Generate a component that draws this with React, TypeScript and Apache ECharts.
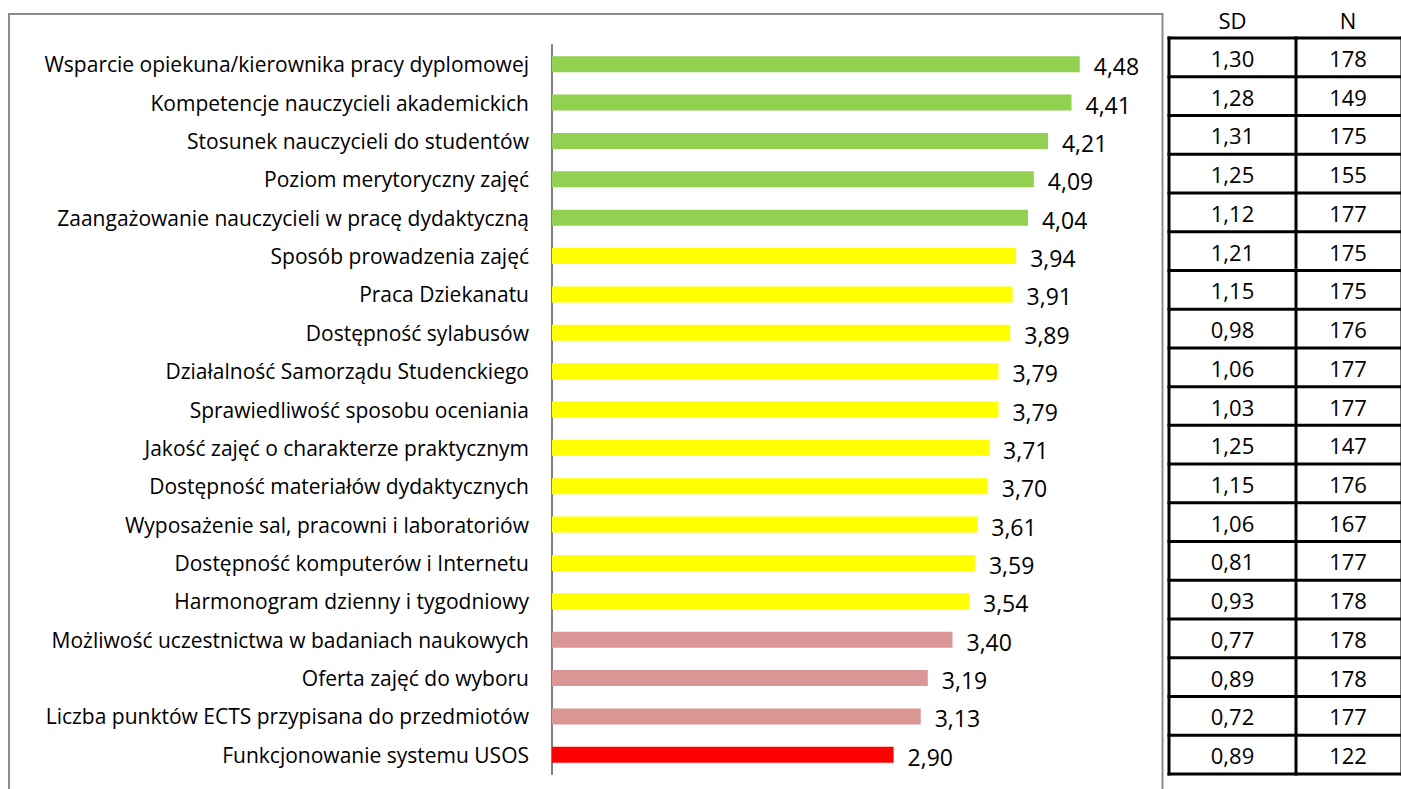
import React, { useEffect, useRef } from "react";
import * as echarts from "echarts";

const categories = [
  "Wsparcie opiekuna/kierownika pracy dyplomowej",
  "Kompetencje nauczycieli akademickich",
  "Stosunek nauczycieli do studentów",
  "Poziom merytoryczny zajęć",
  "Zaangażowanie nauczycieli w pracę dydaktyczną",
  "Sposób prowadzenia zajęć",
  "Praca Dziekanatu",
  "Dostępność sylabusów",
  "Działalność Samorządu Studenckiego",
  "Sprawiedliwość sposobu oceniania",
  "Jakość zajęć o charakterze praktycznym",
  "Dostępność materiałów dydaktycznych",
  "Wyposażenie sal, pracowni i laboratoriów",
  "Dostępność komputerów i Internetu",
  "Harmonogram dzienny i tygodniowy",
  "Możliwość uczestnictwa w badaniach naukowych",
  "Oferta zajęć do wyboru",
  "Liczba punktów ECTS przypisana do przedmiotów",
  "Funkcjonowanie systemu USOS",
];
const means = [4.48, 4.41, 4.21, 4.09, 4.04, 3.94, 3.91, 3.89, 3.79, 3.79, 3.71, 3.7, 3.61, 3.59, 3.54, 3.4, 3.19, 3.13, 2.9];
const sdValues = ["1,30", "1,28", "1,31", "1,25", "1,12", "1,21", "1,15", "0,98", "1,06", "1,03", "1,25", "1,15", "1,06", "0,81", "0,93", "0,77", "0,89", "0,72", "0,89"];
const nValues = ["178", "149", "175", "155", "177", "175", "175", "176", "177", "177", "147", "176", "167", "177", "178", "178", "178", "177", "122"];
const groups = ["g", "g", "g", "g", "g", "y", "y", "y", "y", "y", "y", "y", "y", "y", "y", "p", "p", "p", "r"];
const groupColors: Record<string, string> = { g: "#92D050", y: "#FFFF00", p: "#DA9694", r: "#FF0000" };
const tableHeaders = ["SD", "N"];

const FONT = "'Open Sans'";

export default function App() {
  const ref = useRef<HTMLDivElement>(null);
  useEffect(() => {
    if (!ref.current) return;
    const chart = echarts.init(ref.current, undefined, { renderer: "svg" });

    const tLeft = 1169, tMid = 1296, tRight = 1402, tTop = 38, tBottom = 774;
    const rows = sdValues.length;
    const rowH = (tBottom - tTop) / rows;
    const graphics: any[] = [
      { type: "rect", shape: { x: 9, y: 14, width: 1153.5, height: 800 }, style: { fill: "none", stroke: "#8c8c8c", lineWidth: 2 }, z: 0 },
    ];
    const lineStyle = { stroke: "#000", lineWidth: 3 };
    for (let i = 0; i <= rows; i++) {
      const y = tTop + i * rowH;
      graphics.push({ type: "line", shape: { x1: tLeft - 1.5, y1: y, x2: tRight, y2: y }, style: lineStyle });
    }
    [tLeft, tMid, tRight].forEach((x) => {
      graphics.push({ type: "line", shape: { x1: x, y1: tTop - 1.5, x2: x, y2: tBottom + 1.5 }, style: lineStyle });
    });
    const colCenters = [(tLeft + tMid) / 2, (tMid + 1400) / 2];
    tableHeaders.forEach((h, c) => {
      graphics.push({ type: "text", x: colCenters[c], y: 20, style: { text: h, fill: "#000", font: `22px ${FONT}`, align: "center", verticalAlign: "middle" } });
    });
    [sdValues, nValues].forEach((col, c) => {
      col.forEach((v, i) => {
        graphics.push({ type: "text", x: colCenters[c], y: tTop + rowH * (i + 0.5) + 0.5, style: { text: v, fill: "#000", font: `22px ${FONT}`, align: "center", verticalAlign: "middle" } });
      });
    });

    chart.setOption({
      animation: false,
      grid: { left: 552, right: 260, top: 45, bottom: 15, containLabel: false },
      xAxis: { type: "value", min: 0, max: 5, show: false },
      yAxis: {
        type: "category",
        inverse: true,
        data: categories,
        axisLine: { show: true, lineStyle: { color: "#808080", width: 2 } },
        axisTick: { show: false },
        axisLabel: { color: "#000", fontFamily: "Open Sans", fontSize: 21, margin: 23 },
      },
      series: [
        {
          type: "bar",
          barWidth: 16,
          data: means.map((v, i) => ({ value: v, itemStyle: { color: groupColors[groups[i]] } })),
          label: {
            show: true,
            position: "right",
            distance: 14,
            color: "#000",
            fontFamily: "Open Sans",
            fontSize: 23,
            offset: [0, 2],
            formatter: (p: any) => p.value.toFixed(2).replace(".", ","),
          },
        },
      ],
      graphic: graphics,
    });
    return () => chart.dispose();
  }, []);
  return <div ref={ref} style={{ position: "fixed", left: 0, top: 0, width: 1401, height: 789, background: "#fff" }} />;
}
